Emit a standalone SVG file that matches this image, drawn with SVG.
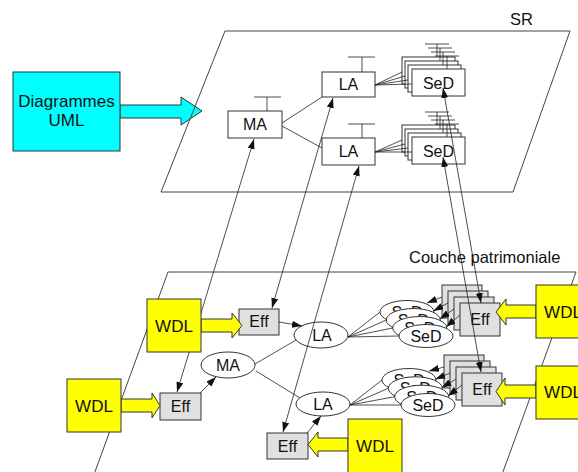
<svg xmlns="http://www.w3.org/2000/svg" width="578" height="472" viewBox="0 0 578 472">
<style>
text{font-family:"Liberation Sans",Arial,sans-serif;font-size:16px;fill:#111;text-anchor:middle}
.big{font-size:17px}
.lbl{font-size:16.5px;text-anchor:start}
.plane{fill:none;stroke:#444;stroke-width:1}
.box{fill:#fff;stroke:#333;stroke-width:1}
.ell{fill:#fff;stroke:#333;stroke-width:1}
.eff{fill:#e0e0e0;stroke:#333;stroke-width:1}
.wdl{fill:#ffff00;stroke:#333;stroke-width:1}
.cy{fill:#00ffff;stroke:#333;stroke-width:1}
.ln{fill:none;stroke:#222;stroke-width:0.8}
.arr{fill:none;stroke:#222;stroke-width:0.8;marker-end:url(#ah)}
.dbl{fill:none;stroke:#222;stroke-width:0.8;marker-start:url(#ah);marker-end:url(#ah)}
</style>
<defs>
<marker id="ah" markerUnits="userSpaceOnUse" markerWidth="11" markerHeight="8" refX="10" refY="3.5" orient="auto-start-reverse" viewBox="0 0 11 8">
<path d="M0,0 L10,3.5 L0,7 z" fill="#111"/>
</marker>
</defs>
<rect width="578" height="472" fill="#fff"/>

<g id="uml">
<polygon class="cy" points="120,105 181,105 181,97 202,111 181,125 181,118 120,118"/>
<rect class="cy" x="13" y="72" width="107" height="79"/>
<text class="big" x="66.5" y="107">Diagrammes</text>
<text class="big" x="66.5" y="126">UML</text>
</g>

<g id="plane-sr">
<polygon class="plane" points="225,31 570,31 513,192 161,192"/>
<text class="lbl" x="510" y="25">SR</text>
</g>
<g id="plane-couche">
<polygon class="plane" points="168,272 576,272 500,480 92,480"/>
<text class="lbl" x="409" y="263">Couche patrimoniale</text>
</g>

<g id="sr-ma">
<rect class="box" x="228" y="111" width="54" height="27"/>
<path class="ln" d="M267 111V97M254 97H281"/>
<text x="255" y="130">MA</text>
</g>
<g id="sr-la1">
<rect class="box" x="322" y="72" width="53" height="25"/>
<path class="ln" d="M362 72V57M348 57H375"/>
<text x="348.5" y="90">LA</text>
</g>
<g id="sr-la2">
<rect class="box" x="322" y="138" width="53" height="27"/>
<path class="ln" d="M362 138V124M348 124H375"/>
<text x="348.5" y="157">LA</text>
</g>
<g id="sr-sed1">
<path class="ln" d="M437 57V44M425 44H449"/><rect class="box" x="402" y="57" width="53" height="27"/>
<path class="ln" d="M440 61V48M428 48H452"/><rect class="box" x="405" y="61" width="53" height="27"/>
<path class="ln" d="M443 65V52M431 52H455"/><rect class="box" x="408" y="65" width="53" height="27"/>
<path class="ln" d="M447 69V56M435 56H459"/><rect class="box" x="412" y="69" width="53" height="27"/><text x="438.5" y="88.5">SeD</text>
</g>
<g id="sr-sed2">
<path class="ln" d="M437 125V112M425 112H449"/><rect class="box" x="402" y="125" width="53" height="27"/>
<path class="ln" d="M440 129V116M428 116H452"/><rect class="box" x="405" y="129" width="53" height="27"/>
<path class="ln" d="M443 133V120M431 120H455"/><rect class="box" x="408" y="133" width="53" height="27"/>
<path class="ln" d="M447 137V124M435 124H459"/><rect class="box" x="412" y="137" width="53" height="27"/><text x="438.5" y="156.5">SeD</text>
</g>

<g id="cp-la1">
<ellipse class="ell" cx="321" cy="335" rx="27" ry="13"/>
<text x="322" y="341">LA</text>
</g>
<g id="cp-ma">
<ellipse class="ell" cx="228" cy="365" rx="27" ry="13"/>
<text x="228" y="371">MA</text>
</g>
<g id="cp-la2">
<ellipse class="ell" cx="323" cy="404" rx="27" ry="12"/>
<text x="323" y="410">LA</text>
</g>
<g id="cp-sed1">
<ellipse class="ell" cx="407" cy="312" rx="27" ry="11.5"/><text x="407" y="318">SeD</text>
<ellipse class="ell" cx="413.3" cy="320" rx="27" ry="11.5"/><text x="413.3" y="326">SeD</text>
<ellipse class="ell" cx="419.7" cy="328" rx="27" ry="11.5"/><text x="419.7" y="334">SeD</text>
<ellipse class="ell" cx="426" cy="336" rx="27" ry="11.5"/><text x="426" y="342">SeD</text>
</g>
<g id="cp-sed2">
<ellipse class="ell" cx="409" cy="380" rx="27" ry="11.5"/><text x="409" y="386">SeD</text>
<ellipse class="ell" cx="415.3" cy="388.3" rx="27" ry="11.5"/><text x="415.3" y="394.3">SeD</text>
<ellipse class="ell" cx="421.7" cy="396.7" rx="27" ry="11.5"/><text x="421.7" y="402.7">SeD</text>
<ellipse class="ell" cx="428" cy="405" rx="27" ry="11.5"/><text x="428" y="411">SeD</text>
</g>
<g id="cp-eff-a">
<rect class="eff" x="239" y="309" width="40" height="26"/>
<text x="259" y="327">Eff</text>
</g>
<g id="cp-eff-b">
<rect class="eff" x="160" y="393" width="41" height="27"/>
<text x="180.5" y="412">Eff</text>
</g>
<g id="cp-eff-c">
<rect class="eff" x="267" y="433" width="41" height="26"/>
<text x="287.5" y="452">Eff</text>
</g>
<g id="cp-eff-stack1">
<rect class="eff" x="442" y="285" width="40" height="33"/>
<rect class="eff" x="448" y="291" width="40" height="33"/>
<rect class="eff" x="454" y="297" width="40" height="33"/>
<rect class="eff" x="460" y="303" width="40" height="33"/><text x="480" y="325">Eff</text>
</g>
<g id="cp-eff-stack2">
<rect class="eff" x="444" y="355" width="40" height="33"/>
<rect class="eff" x="450" y="361" width="40" height="33"/>
<rect class="eff" x="456" y="367" width="40" height="33"/>
<rect class="eff" x="462" y="373" width="40" height="33"/><text x="482" y="395">Eff</text>
</g>

<g id="connectors">
<path class="ln" d="M282 123L322 97M282 126L322 148"/>
<path class="ln" d="M375 85L402 72M375 85L405 76M375 85L408 80M375 85L412 84"/>
<path class="ln" d="M375 152L402 140M375 152L405 144M375 152L408 148M375 152L412 152"/>
<path class="ln" d="M255 364L296 340M256 371L300 398"/>
<path class="ln" d="M348 337L380 312M348 337L386.3 320M348 337L392.7 328M348 337L399 336"/>
<path class="ln" d="M350 405L382 380M350 405L388.3 388.3M350 405L394.7 396.7M350 405L401 405"/>
<path class="arr" d="M279 322L302 326"/>
<path class="arr" d="M200 393L216 377"/>
<path class="arr" d="M307 433L321 416"/>
<path class="arr" d="M442 297L427 303"/>
<path class="arr" d="M448 303L433.3 311"/>
<path class="arr" d="M454 309L439.7 319"/>
<path class="arr" d="M460 315L446 327"/>
<path class="arr" d="M444 367L429 371"/>
<path class="arr" d="M450 373L435.3 379.3"/>
<path class="arr" d="M456 379L441.7 387.7"/>
<path class="arr" d="M462 385L448 396"/>
<path class="dbl" d="M254 139L177 392"/>
<path class="dbl" d="M333 98L272 308"/>
<path class="dbl" d="M359 166L283 432"/>
<path class="dbl" d="M443 88L481 303"/>
<path class="dbl" d="M443 157L481 372"/>
</g>

<g id="wdl-1">
<polygon class="wdl" points="201,319 232,319 232,313 242,325.5 232,338 232,332 201,332"/>
<rect class="wdl" x="147" y="299" width="54" height="53"/>
<text class="big" x="174" y="332">WDL</text>
</g>
<g id="wdl-2">
<polygon class="wdl" points="121,399 152,399 152,393 160,405.5 152,418 152,412 121,412"/>
<rect class="wdl" x="67" y="379" width="54" height="53"/>
<text class="big" x="94" y="412">WDL</text>
</g>
<g id="wdl-3">
<polygon class="wdl" points="348,438 318,438 318,432 308,444.5 318,457 318,451 348,451"/>
<rect class="wdl" x="348" y="419" width="54" height="60"/>
<text class="big" x="375" y="452">WDL</text>
</g>
<g id="wdl-4">
<polygon class="wdl" points="536,305 506,305 506,299 496,312 506,325 506,318 536,318"/>
<rect class="wdl" x="536" y="285" width="54" height="53"/>
<text class="big" x="563" y="318">WDL</text>
</g>
<g id="wdl-5">
<polygon class="wdl" points="536,385 505,385 505,378 496,391.5 505,405 505,398 536,398"/>
<rect class="wdl" x="536" y="366" width="54" height="53"/>
<text class="big" x="563" y="398">WDL</text>
</g>
</svg>
